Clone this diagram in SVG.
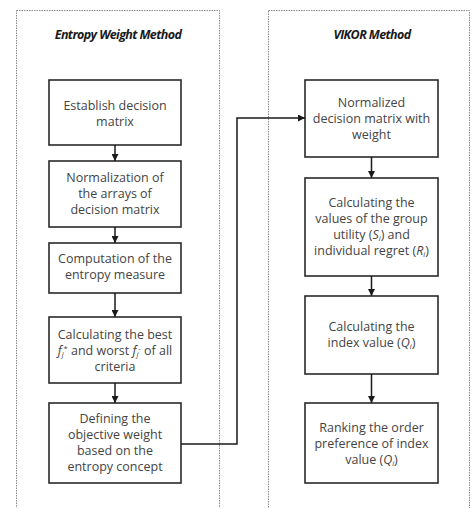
<svg xmlns="http://www.w3.org/2000/svg" width="472" height="508" viewBox="0 0 472 508">
<defs>
<marker id="ah" viewBox="0 0 10 10" refX="10" refY="5" markerWidth="7" markerHeight="7" markerUnits="userSpaceOnUse" orient="auto">
<path d="M0,0 L10,5 L0,10 z" fill="#1a1a1a"/>
</marker>
<style>
.cont{fill:none;stroke:#8a8a8a;stroke-width:1;stroke-dasharray:1.5,1}
.box{fill:#fff;stroke:#2a2a2a;stroke-width:1.6}
.t{font-family:"Open Sans","Noto Sans",sans-serif;font-size:12.5px;fill:#444;text-anchor:middle}
.title{font-family:"Open Sans","Noto Sans",sans-serif;font-size:12.5px;font-weight:bold;font-style:italic;fill:#1a1a1a;text-anchor:middle;letter-spacing:-0.6px}
.edge{fill:none;stroke:#1a1a1a;stroke-width:1.5;marker-end:url(#ah)}
.i{font-style:italic}
.s{font-size:7.5px}
</style>
</defs>
<g id="entropy-group">
<rect class="cont" x="16.5" y="10.5" width="203" height="510"/>
<text class="title" x="118" y="39">Entropy Weight Method</text>
</g>
<g id="vikor-group">
<rect class="cont" x="268.5" y="10.5" width="201" height="510"/>
<text class="title" x="372" y="39">VIKOR Method</text>
</g>
<g id="e1">
<rect class="box" x="49" y="80" width="132" height="65"/>
<text class="t" x="115" y="110">Establish decision</text>
<text class="t" x="115" y="126">matrix</text>
</g>
<g id="e2">
<rect class="box" x="49" y="161" width="132" height="66"/>
<text class="t" x="115" y="182">Normalization of</text>
<text class="t" x="115" y="198">the arrays of</text>
<text class="t" x="115" y="214">decision matrix</text>
</g>
<g id="e3">
<rect class="box" x="49" y="243" width="132" height="50"/>
<text class="t" x="115" y="263">Computation of the</text>
<text class="t" x="115" y="279">entropy measure</text>
</g>
<g id="e4">
<rect class="box" x="49" y="317" width="132" height="66"/>
<text class="t" x="115" y="339">Calculating the best</text>
<text class="t" x="115" y="355"><tspan class="i">f</tspan><tspan class="i s" baseline-shift="-2">j</tspan><tspan class="s" baseline-shift="4">*</tspan> and worst <tspan class="i">f</tspan><tspan class="i s" baseline-shift="-2">j</tspan><tspan class="s" baseline-shift="4">-</tspan> of all</text>
<text class="t" x="115" y="371">criteria</text>
</g>
<g id="e5">
<rect class="box" x="49" y="403" width="132" height="80"/>
<text class="t" x="115" y="423">Defining the</text>
<text class="t" x="115" y="439">objective weight</text>
<text class="t" x="115" y="455">based on the</text>
<text class="t" x="115" y="471">entropy concept</text>
</g>
<g id="v1">
<rect class="box" x="305" y="80" width="133" height="77"/>
<text class="t" x="371.5" y="107">Normalized</text>
<text class="t" x="371.5" y="123">decision matrix with</text>
<text class="t" x="371.5" y="139">weight</text>
</g>
<g id="v2">
<rect class="box" x="305" y="178" width="133" height="98"/>
<text class="t" x="371.5" y="207">Calculating the</text>
<text class="t" x="371.5" y="223">values of the group</text>
<text class="t" x="371.5" y="239">utility (<tspan class="i">S</tspan><tspan class="i s" baseline-shift="-2">i</tspan>) and</text>
<text class="t" x="371.5" y="255">individual regret (<tspan class="i">R</tspan><tspan class="i s" baseline-shift="-2">i</tspan>)</text>
</g>
<g id="v3">
<rect class="box" x="305" y="296" width="133" height="78"/>
<text class="t" x="371.5" y="331">Calculating the</text>
<text class="t" x="371.5" y="347">index value (<tspan class="i">Q</tspan><tspan class="i s" baseline-shift="-2">i</tspan>)</text>
</g>
<g id="v4">
<rect class="box" x="305" y="403" width="133" height="80"/>
<text class="t" x="371.5" y="432">Ranking the order</text>
<text class="t" x="371.5" y="448">preference of index</text>
<text class="t" x="371.5" y="464">value (<tspan class="i">Q</tspan><tspan class="i s" baseline-shift="-2">i</tspan>)</text>
</g>
<g id="connectors">
<line class="edge" x1="115" y1="145" x2="115" y2="161"/>
<line class="edge" x1="115" y1="227" x2="115" y2="243"/>
<line class="edge" x1="115" y1="293" x2="115" y2="317"/>
<line class="edge" x1="115" y1="383" x2="115" y2="403"/>
<polyline class="edge" points="181,444 237,444 237,118 305,118"/>
<line class="edge" x1="371.5" y1="157" x2="371.5" y2="178"/>
<line class="edge" x1="371.5" y1="276" x2="371.5" y2="296"/>
<line class="edge" x1="371.5" y1="374" x2="371.5" y2="403"/>
</g>
</svg>
